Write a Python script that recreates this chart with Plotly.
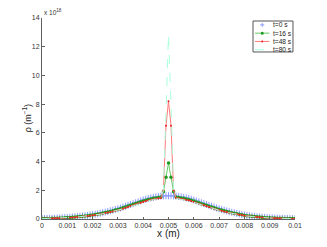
import numpy as np
import plotly.graph_objects as go

# sample grid x (m), 101 points from 0 to 0.01
x_vals = [round(i * 0.0001, 4) for i in range(101)]

rho_t0 = [0.03, 0.034, 0.038, 0.043, 0.049, 0.056, 0.064, 0.073, 0.083, 0.095, 0.108,
          0.122, 0.137, 0.153, 0.170, 0.188, 0.207, 0.228, 0.250, 0.274, 0.300,
          0.33, 0.36, 0.40, 0.44, 0.48, 0.52, 0.57, 0.61, 0.66, 0.71,
          0.77, 0.83, 0.89, 0.95, 1.01, 1.07, 1.13, 1.19, 1.26, 1.33,
          1.38, 1.43, 1.47, 1.51, 1.54, 1.57, 1.59, 1.61, 1.62, 1.62,
          1.62, 1.61, 1.59, 1.57, 1.54, 1.51, 1.47, 1.43, 1.38, 1.32,
          1.26, 1.19, 1.13, 1.07, 1.01, 0.95, 0.89, 0.83, 0.77, 0.71,
          0.66, 0.61, 0.56, 0.51, 0.47, 0.43, 0.39, 0.35, 0.31, 0.28,
          0.25, 0.22, 0.20, 0.18, 0.16, 0.14, 0.125, 0.11, 0.097, 0.085,
          0.075, 0.066, 0.058, 0.051, 0.045, 0.04, 0.036, 0.033, 0.03, 0.028]

rho_t16 = [0.03, 0.034, 0.038, 0.042, 0.047, 0.053, 0.06, 0.068, 0.077, 0.088, 0.10,
           0.113, 0.127, 0.142, 0.158, 0.175, 0.193, 0.213, 0.234, 0.257, 0.281,
           0.31, 0.34, 0.37, 0.41, 0.45, 0.49, 0.53, 0.57, 0.62, 0.67,
           0.72, 0.78, 0.84, 0.90, 0.96, 1.02, 1.08, 1.14, 1.20, 1.26,
           1.31, 1.36, 1.40, 1.44, 1.47, 1.50, 1.53, 1.9, 2.9, 3.9,
           2.9, 1.9, 1.53, 1.50, 1.47, 1.44, 1.40, 1.36, 1.31, 1.25,
           1.19, 1.13, 1.07, 1.01, 0.95, 0.89, 0.84, 0.78, 0.72, 0.67,
           0.62, 0.57, 0.53, 0.48, 0.44, 0.40, 0.36, 0.33, 0.29, 0.26,
           0.235, 0.21, 0.19, 0.17, 0.15, 0.135, 0.12, 0.105, 0.093, 0.082,
           0.072, 0.064, 0.056, 0.05, 0.044, 0.04, 0.036, 0.033, 0.03, 0.028]

rho_t48 = [0.025, 0.028, 0.032, 0.036, 0.04, 0.045, 0.051, 0.058, 0.066, 0.075, 0.086,
           0.097, 0.11, 0.124, 0.139, 0.155, 0.172, 0.19, 0.21, 0.23, 0.255,
           0.28, 0.31, 0.34, 0.37, 0.41, 0.45, 0.49, 0.53, 0.57, 0.62,
           0.67, 0.72, 0.78, 0.84, 0.90, 0.96, 1.02, 1.08, 1.14, 1.20,
           1.25, 1.30, 1.34, 1.38, 1.41, 1.44, 1.47, 2.0, 6.5, 8.2,
           6.5, 2.0, 1.47, 1.44, 1.41, 1.38, 1.34, 1.30, 1.25, 1.19,
           1.13, 1.07, 1.01, 0.95, 0.89, 0.83, 0.77, 0.72, 0.67, 0.62,
           0.57, 0.52, 0.48, 0.44, 0.40, 0.36, 0.33, 0.30, 0.27, 0.24,
           0.215, 0.19, 0.17, 0.15, 0.135, 0.12, 0.105, 0.093, 0.082, 0.072,
           0.064, 0.056, 0.05, 0.044, 0.039, 0.035, 0.031, 0.028, 0.026, 0.024]

rho_t80 = [0.024, 0.027, 0.031, 0.035, 0.039, 0.044, 0.05, 0.056, 0.064, 0.073, 0.083,
           0.094, 0.106, 0.12, 0.134, 0.15, 0.166, 0.184, 0.203, 0.223, 0.245,
           0.27, 0.30, 0.33, 0.36, 0.40, 0.43, 0.47, 0.51, 0.55, 0.60,
           0.65, 0.70, 0.75, 0.81, 0.87, 0.93, 0.99, 1.05, 1.11, 1.17,
           1.22, 1.27, 1.31, 1.35, 1.38, 1.41, 1.44, 2.0, 8.0, 12.85,
           8.0, 2.0, 1.44, 1.41, 1.38, 1.35, 1.31, 1.27, 1.22, 1.16,
           1.10, 1.04, 0.98, 0.92, 0.86, 0.80, 0.75, 0.70, 0.65, 0.60,
           0.55, 0.50, 0.46, 0.42, 0.38, 0.35, 0.32, 0.29, 0.26, 0.23,
           0.205, 0.185, 0.165, 0.145, 0.13, 0.115, 0.10, 0.09, 0.08, 0.07,
           0.062, 0.055, 0.049, 0.043, 0.038, 0.034, 0.03, 0.027, 0.025, 0.023]

series_names = ["t=0 s", "t=16 s", "t=48 s", "t=80 s"]
x_ticks = [0, 0.001, 0.002, 0.003, 0.004, 0.005, 0.006, 0.007, 0.008, 0.009, 0.01]
x_tick_labels = ["0", "0.001", "0.002", "0.003", "0.004", "0.005", "0.006", "0.007", "0.008", "0.009", "0.01"]
y_ticks = [0, 2, 4, 6, 8, 10, 12, 14]
y_tick_labels = ["0", "2", "4", "6", "8", "10", "12", "14"]

C_BLUE = "#8b9bff"
C_GREEN_L = "#66cc66"
C_GREEN_M = "#1f9a1f"
C_RED_L = "#ff7a7a"
C_RED_M = "#e82020"
C_CYAN = "#a8ffdc"
FONT = "Liberation Sans, Arial, sans-serif"

fig = go.Figure()
fig.add_trace(go.Scatter(x=x_vals, y=rho_t0, mode="markers", name=series_names[0],
                         marker=dict(symbol="cross-thin", size=5,
                                     line=dict(color=C_BLUE, width=1), color=C_BLUE)))
fig.add_trace(go.Scatter(x=x_vals, y=rho_t16, mode="lines+markers", name=series_names[1],
                         line=dict(color=C_GREEN_L, width=1),
                         marker=dict(symbol="circle", size=3.5, color=C_GREEN_M)))
fig.add_trace(go.Scatter(x=x_vals, y=rho_t48, mode="lines+markers", name=series_names[2],
                         line=dict(color=C_RED_L, width=1),
                         marker=dict(symbol="circle", size=2, color=C_RED_M)))
fig.add_trace(go.Scatter(x=x_vals, y=rho_t80, mode="lines", name=series_names[3],
                         line=dict(color=C_CYAN, width=1, dash="dash")))

axis_common = dict(showgrid=False, zeroline=False, showline=True, linecolor="#606060",
                   linewidth=1, ticks="inside", ticklen=2.5, tickcolor="#606060",
                   tickfont=dict(size=7, color="#333333", family=FONT), mirror=False,
                   automargin=False)

fig.update_xaxes(range=[0, 0.01], tickvals=x_ticks, ticktext=x_tick_labels,
                 title=dict(text="x (m)", font=dict(size=10, color="#222222", family=FONT), standoff=2),
                 **axis_common)
fig.update_yaxes(range=[0, 14], tickvals=y_ticks, ticktext=y_tick_labels, **axis_common)

# custom legend (paper coords)
shapes = []
annotations = []
lx0, lx1, ly0, ly1 = 0.834, 0.992, 0.831, 0.985
shapes.append(dict(type="rect", xref="paper", yref="paper", x0=lx0, x1=lx1, y0=ly0, y1=ly1,
                   line=dict(color="#555555", width=1), fillcolor="white", layer="above"))
rows = [0.9657, 0.9246, 0.8834, 0.8422]
sx0, sx1, smid = 0.842, 0.899, 0.8705
# row 1: blue plus marker
shapes.append(dict(type="line", xref="paper", yref="paper", x0=smid - 0.008, x1=smid + 0.008,
                   y0=rows[0], y1=rows[0], line=dict(color=C_BLUE, width=1), layer="above"))
shapes.append(dict(type="line", xref="paper", yref="paper", x0=smid, x1=smid,
                   y0=rows[0] - 0.01, y1=rows[0] + 0.01, line=dict(color=C_BLUE, width=1), layer="above"))
# row 2: green line + dot
shapes.append(dict(type="line", xref="paper", yref="paper", x0=sx0, x1=sx1, y0=rows[1], y1=rows[1],
                   line=dict(color=C_GREEN_L, width=1), layer="above"))
shapes.append(dict(type="circle", xref="paper", yref="paper", x0=smid - 0.006, x1=smid + 0.006,
                   y0=rows[1] - 0.0075, y1=rows[1] + 0.0075, fillcolor=C_GREEN_M,
                   line=dict(color=C_GREEN_M, width=0), layer="above"))
# row 3: red line + small dot
shapes.append(dict(type="line", xref="paper", yref="paper", x0=sx0, x1=sx1, y0=rows[2], y1=rows[2],
                   line=dict(color=C_RED_L, width=1), layer="above"))
shapes.append(dict(type="circle", xref="paper", yref="paper", x0=smid - 0.004, x1=smid + 0.004,
                   y0=rows[2] - 0.005, y1=rows[2] + 0.005, fillcolor=C_RED_M,
                   line=dict(color=C_RED_M, width=0), layer="above"))
# row 4: cyan dashed
shapes.append(dict(type="line", xref="paper", yref="paper", x0=sx0, x1=sx1, y0=rows[3], y1=rows[3],
                   line=dict(color=C_CYAN, width=1, dash="dash"), layer="above"))
for r, name in zip(rows, series_names):
    annotations.append(dict(xref="paper", yref="paper", x=0.906, y=r, text=name, showarrow=False,
                            xanchor="left", yanchor="middle", font=dict(size=6.6, color="#222222", family=FONT)))

annotations.append(dict(xref="paper", yref="paper", x=0.0, y=1.0, text="x 10<sup>18</sup>",
                        showarrow=False, xanchor="left", yanchor="bottom",
                        font=dict(size=6.5, color="#333333", family=FONT)))

# y-axis title as a rotated annotation placed left of the tick labels
annotations.append(dict(xref="paper", yref="paper", x=-0.06, y=0.5, text="ρ (m<sup>−1</sup>)",
                        showarrow=False, textangle=-90, xanchor="center", yanchor="middle",
                        font=dict(size=9, color="#222222", family=FONT)))

# page body adds an 8px offset; size the figure so the axes land where the reference has them
fig.update_layout(width=311, height=231, margin=dict(l=34, r=24, t=10, b=19.5),
                  paper_bgcolor="white", plot_bgcolor="white", showlegend=False,
                  shapes=shapes, annotations=annotations, font=dict(family=FONT))

fig.write_html("out.html")
